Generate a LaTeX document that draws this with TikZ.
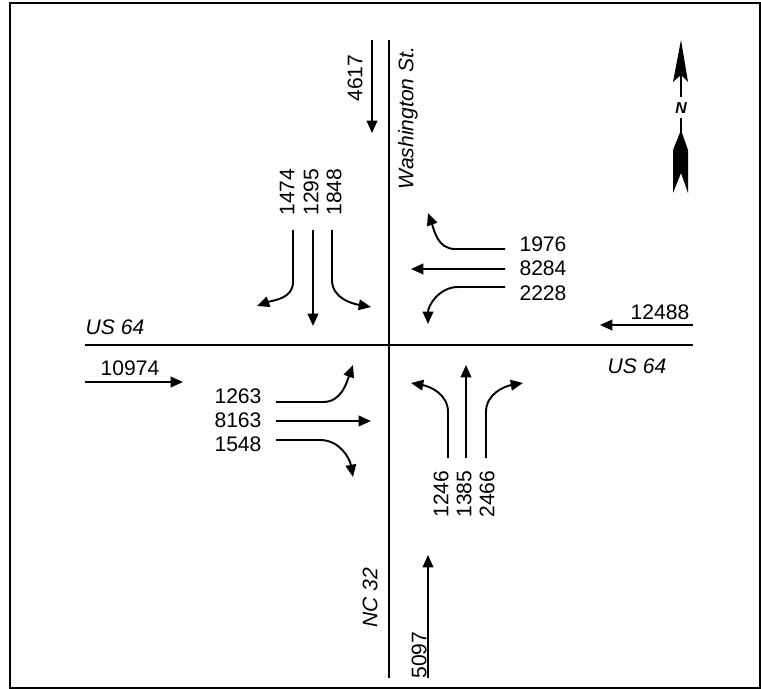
\documentclass[tikz,border=0pt]{standalone}
\usepackage{fontspec}
\setmainfont{Liberation Sans}
\usetikzlibrary{arrows.meta}
\begin{document}
\begin{tikzpicture}[x=0.02cm,y=-0.02cm,
  road/.style={line width=1.1pt},
  flow/.style={line width=1.1pt,-{Triangle[length=7pt,width=6pt]}},
  vol/.style={font=\fontsize{12}{14}\selectfont,inner sep=0pt},
  roadname/.style={font=\fontsize{12}{14}\selectfont\itshape,inner sep=0pt}]
\useasboundingbox (0,0) rectangle (761,689);
\draw[line width=1.2pt] (10,3) rectangle (760,688);
% roads
\coordinate (washN) at (389,40);
\coordinate (washS) at (389,678);
\coordinate (usW) at (85,345);
\coordinate (usE) at (693,345);
\draw[road] (washN) -- (washS);
\draw[road] (usW) -- (usE);
\node[roadname] (us64w) at (115,327) {US 64};
\node[roadname] (us64e) at (637,366) {US 64};
\node[roadname,rotate=90] (wash) at (408,118) {Washington St.};
\node[roadname,rotate=90] (nc32) at (370,598) {NC 32};
% approach volumes
\coordinate (inN) at (372,40);   \coordinate (inNe) at (372,133);
\coordinate (inS) at (428,678);  \coordinate (inSe) at (428,555);
\coordinate (inW) at (85,382);   \coordinate (inWe) at (183,382);
\coordinate (inE) at (693,325);  \coordinate (inEe) at (600,325);
\draw[flow] (inN) -- (inNe);
\draw[flow] (inS) -- (inSe);
\draw[flow] (inW) -- (inWe);
\draw[flow] (inE) -- (inEe);
\node[vol,rotate=90] (v4617) at (355,78) {4617};
\node[vol,rotate=90] (v5097) at (419,655) {5097};
\node[vol] (v10974) at (130,368) {10974};
\node[vol] (v12488) at (660,312) {12488};
% southbound
\coordinate (sbL) at (293,230); \coordinate (sbLe) at (257,306);
\coordinate (sbT) at (313,230); \coordinate (sbTe) at (313,326);
\coordinate (sbR) at (332,230); \coordinate (sbRe) at (371,307);
\draw[flow] (sbL) -- ++(0,52) to[out=-90,in=20] (sbLe);
\draw[flow] (sbT) -- (sbTe);
\draw[flow] (sbR) -- ++(0,50) to[out=-90,in=170] (sbRe);
\node[vol,rotate=90] (v1474) at (287,192) {1474};
\node[vol,rotate=90] (v1295) at (311,192) {1295};
\node[vol,rotate=90] (v1848) at (334,192) {1848};
% westbound
\coordinate (wbR) at (505,249); \coordinate (wbRe) at (428,213);
\coordinate (wbT) at (505,269); \coordinate (wbTe) at (411,269);
\coordinate (wbL) at (505,287); \coordinate (wbLe) at (428,324);
\draw[flow] (wbR) -- ++(-50,0) to[out=180,in=-70] (wbRe);
\draw[flow] (wbT) -- (wbTe);
\draw[flow] (wbL) -- ++(-47,0) to[out=180,in=90] (wbLe);
\node[vol] (v1976) at (543,244) {1976};
\node[vol] (v8284) at (543,268) {8284};
\node[vol] (v2228) at (543,293) {2228};
% eastbound
\coordinate (ebL) at (276,402); \coordinate (ebLe) at (353,365);
\coordinate (ebT) at (276,421); \coordinate (ebTe) at (371,421);
\coordinate (ebR) at (276,440); \coordinate (ebRe) at (353,477);
\draw[flow] (ebL) -- ++(47,0) to[out=0,in=-110] (ebLe);
\draw[flow] (ebT) -- (ebTe);
\draw[flow] (ebR) -- ++(44,0) to[out=0,in=100] (ebRe);
\node[vol] (v1263) at (238,396) {1263};
\node[vol] (v8163) at (238,420) {8163};
\node[vol] (v1548) at (238,444) {1548};
% northbound
\coordinate (nbL) at (448,458); \coordinate (nbLe) at (411,383);
\coordinate (nbT) at (466,458); \coordinate (nbTe) at (466,365);
\coordinate (nbR) at (486,458); \coordinate (nbRe) at (523,383);
\draw[flow] (nbL) -- ++(0,-46) to[out=90,in=-10] (nbLe);
\draw[flow] (nbT) -- (nbTe);
\draw[flow] (nbR) -- ++(0,-46) to[out=90,in=190] (nbRe);
\node[vol,rotate=90] (v1246) at (441,494) {1246};
\node[vol,rotate=90] (v1385) at (464,494) {1385};
\node[vol,rotate=90] (v2466) at (487,494) {2466};
% north arrow
\fill (681,40) -- (688,82) -- (681,75) -- (673,82) -- cycle;
\draw[line width=1.1pt] (681,75) -- (681,97);
\node[font=\fontsize{9}{10}\selectfont\bfseries\itshape,inner sep=0pt] (north) at (681,108) {N};
\draw[line width=1.1pt] (681,118) -- (681,134);
\fill (681,130) -- (688,150) -- (688,193) -- (681,173) -- (673,193) -- (673,150) -- cycle;
\end{tikzpicture}
\end{document}
